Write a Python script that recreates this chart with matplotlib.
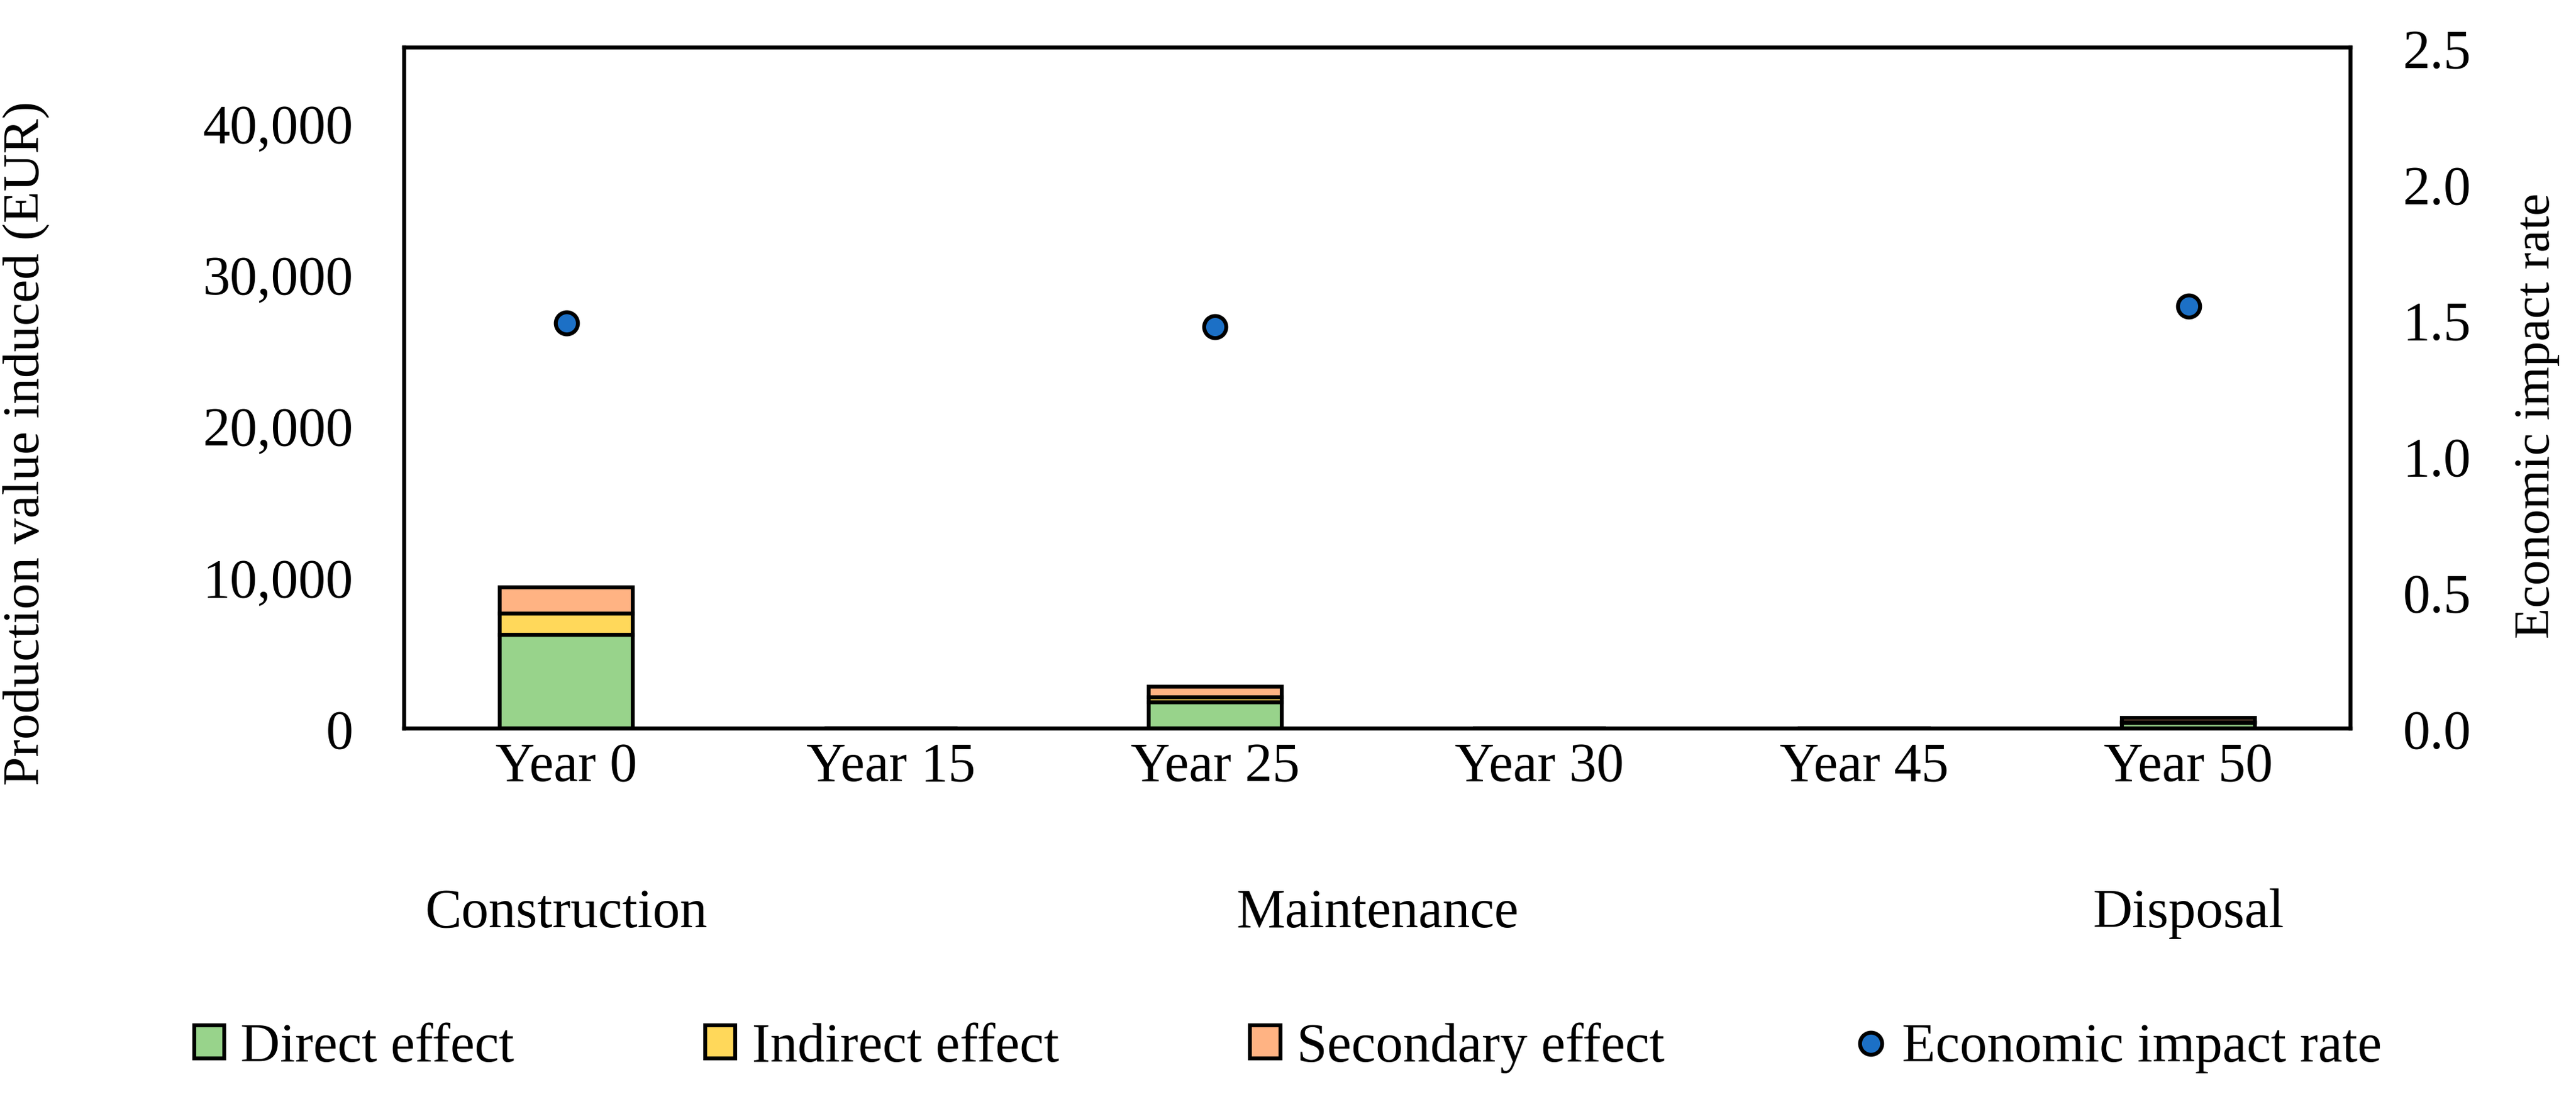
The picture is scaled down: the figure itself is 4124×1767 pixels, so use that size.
import matplotlib
matplotlib.use("Agg")
import matplotlib.pyplot as plt
import matplotlib.ticker as mticker
from matplotlib.patches import Patch
from matplotlib.lines import Line2D
import numpy as np

plt.rcParams['font.family'] = ['Liberation Serif', 'DejaVu Serif']
plt.rcParams['font.size'] = 21

years = ['Year 0', 'Year 15', 'Year 25', 'Year 30', 'Year 45', 'Year 50']
direct = [6190, 0, 1740, 0, 0, 360]
indirect = [1400, 0, 310, 0, 0, 40]
secondary = [1730, 0, 700, 0, 0, 290]
rate_years = ['Year 0', 'Year 25', 'Year 50']
rate = [1.49, 1.475, 1.55]
phases = ['Construction', 'Maintenance', 'Disposal']
phase_pos = [0, 2.5, 5]

c_direct = '#98D38B'
c_indirect = '#FFD85A'
c_second = '#FFB383'
c_rate = '#1C70C6'
lw = 1.5

fig = plt.figure(figsize=(13.747, 5.893), dpi=300)
ax = fig.add_axes([0.1569, 0.3399, 0.7556, 0.6165])
x = np.arange(len(years))
w = 0.41
d = np.array(direct)
i = np.array(indirect)
s = np.array(secondary)
ax.bar(x, d, w, color=c_direct, edgecolor='black', linewidth=lw, zorder=2)
ax.bar(x, i, w, bottom=d, color=c_indirect, edgecolor='black', linewidth=lw, zorder=2)
ax.bar(x, s, w, bottom=d + i, color=c_second, edgecolor='black', linewidth=lw, zorder=2)

ax.set_xlim(-0.5, len(years) - 0.5)
ax.set_ylim(0, 45000)
ax.set_yticks([0, 10000, 20000, 30000, 40000])
ax.yaxis.set_major_formatter(mticker.FuncFormatter(lambda v, p: f'{int(v):,}'))
ax.set_xticks(x)
ax.set_xticklabels(years)
ax.tick_params(axis='both', length=0)
ax.tick_params(axis='y', pad=19.5)
ax.tick_params(axis='x', pad=5)
for sp in ax.spines.values():
    sp.set_linewidth(lw)
ax.set_ylabel('Production value induced (EUR)', fontsize=20)
ax.yaxis.set_label_coords(-0.182, 0.42)

ax2 = ax.twinx()
rx = [years.index(r) for r in rate_years]
ax2.plot(rx, rate, linestyle='none', marker='o', markersize=8.5, markerfacecolor=c_rate,
         markeredgecolor='black', markeredgewidth=lw, zorder=3)
ax2.set_ylim(0, 2.5)
ax2.set_yticks([0, 0.5, 1.0, 1.5, 2.0, 2.5])
ax2.yaxis.set_major_formatter(mticker.FormatStrFormatter('%.1f'))
ax2.tick_params(axis='y', length=0, pad=20)
for sp in ax2.spines.values():
    sp.set_linewidth(lw)
ax2.set_ylabel('Economic impact rate', fontsize=19.5)
ax2.yaxis.set_label_coords(1.084, 0.46)

for ph, px in zip(phases, phase_pos):
    ax.text(px, -0.271, ph, transform=ax.get_xaxis_transform(), ha='center', va='center')

handles = [Patch(facecolor=c_direct, edgecolor='black', linewidth=lw),
           Patch(facecolor=c_indirect, edgecolor='black', linewidth=lw),
           Patch(facecolor=c_second, edgecolor='black', linewidth=lw),
           Line2D([], [], linestyle='none', marker='o', markersize=8.5, markerfacecolor=c_rate,
                  markeredgecolor='black', markeredgewidth=lw)]
labels = ['Direct effect', 'Indirect effect', 'Secondary effect', 'Economic impact rate']
fig.legend(handles, labels, loc='center', bbox_to_anchor=(0.5, 0.051), ncol=4, frameon=False,
           handlelength=0.55, handleheight=0.55, handletextpad=0.3, columnspacing=3.5)

fig.savefig('out.png', dpi=300)
